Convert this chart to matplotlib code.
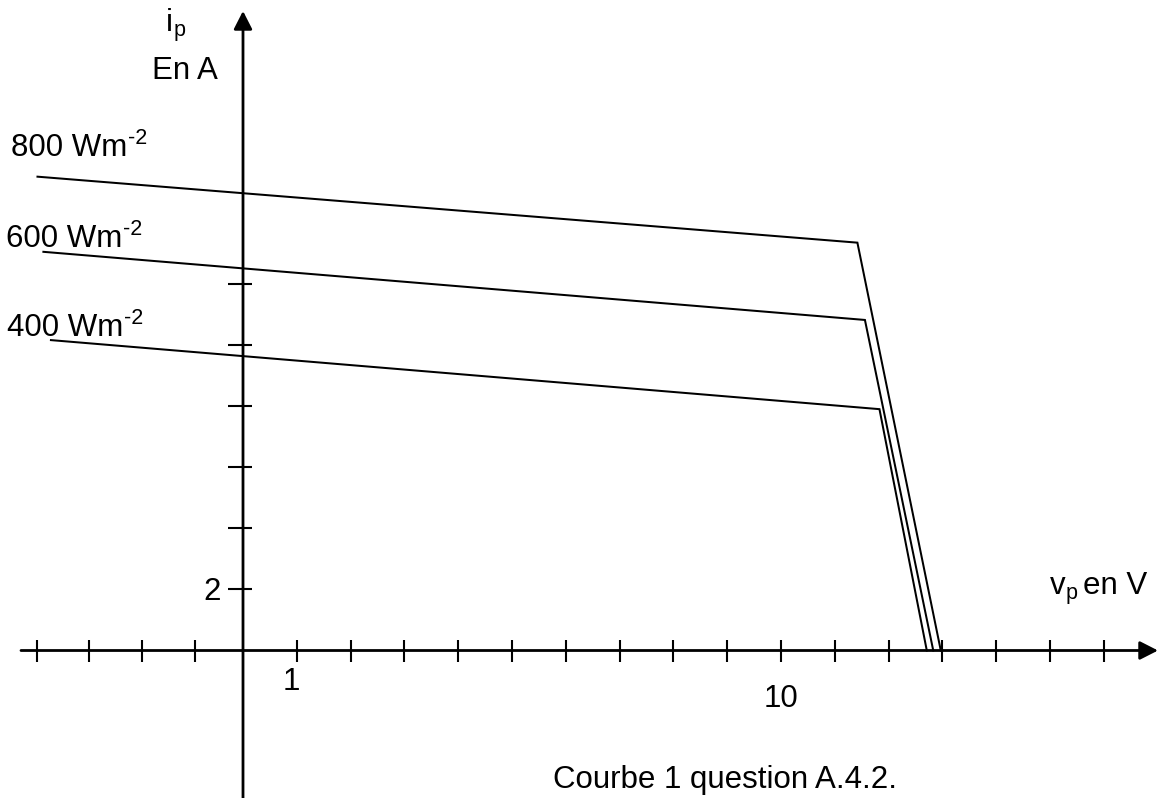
import matplotlib
matplotlib.use("Agg")
import matplotlib.pyplot as plt

# ---- data ----
irradiance_labels = ["800 Wm", "600 Wm", "400 Wm"]
volts_800 = [-3.82, 11.42, 12.97]
amps_800 = [15.51, 13.35, 0.0]
volts_600 = [-3.71, 11.56, 12.83]
amps_600 = [13.05, 10.82, 0.0]
volts_400 = [-3.57, 11.83, 12.71]
amps_400 = [10.16, 7.90, 0.0]
x_ticks = [-3.83, -2.86, -1.88, -0.90, 1, 2, 3, 4, 5, 6, 7, 8, 9, 10,
           11, 12, 13, 14, 15, 16]
y_ticks = [2, 4, 6, 8, 10, 12]
x_tick_labels = ["1", "10"]
y_tick_labels = ["2"]

# ---- layout ----
W, H = 1159, 798
X0, Y0 = 243.0, 650.5       # origin in pixels
SX, SY = 53.8, 30.55        # pixels per unit

plt.rcParams['font.family'] = ['Liberation Sans', 'DejaVu Sans']
FS = 22.5
FS_SMALL = 15.5

fig = plt.figure(figsize=(W / 100, H / 100), dpi=100)
ax = fig.add_axes([0, 0, 1, 1])
ax.set_xlim(-X0 / SX, (W - X0) / SX)
ax.set_ylim((Y0 - H) / SY, Y0 / SY)
ax.axis('off')


def px(x):
    return (x - X0) / SX


def py(y):
    return (Y0 - y) / SY


# axes with arrows
axis_lw = 2.0
arrow_style = '-|>,head_length=0.55,head_width=0.28'
ax.annotate('', xy=(px(1158), 0), xytext=(px(21), 0),
            arrowprops=dict(arrowstyle=arrow_style, lw=axis_lw, color='black',
                            shrinkA=0, shrinkB=0, mutation_scale=20))
ax.annotate('', xy=(0, py(11)), xytext=(0, py(H + 5)),
            arrowprops=dict(arrowstyle=arrow_style, lw=axis_lw, color='black',
                            shrinkA=0, shrinkB=0, mutation_scale=20))

# ticks
ax.vlines(x_ticks, -11 / SY, 11 / SY, colors='black', lw=1.5)
ax.hlines(y_ticks, -15 / SX, 9 / SX, colors='black', lw=1.5)

# curves
curve_lw = 1.45
for v, a in [(volts_800, amps_800), (volts_600, amps_600), (volts_400, amps_400)]:
    ax.plot(v, a, color='black', lw=curve_lw, solid_joinstyle='miter')

# tick labels
x_label_pos = [(291.5, 690), (781.5, 707)]
for lab, (lx, ly) in zip(x_tick_labels, x_label_pos):
    ax.text(px(lx), py(ly), lab, fontsize=FS, ha='center', va='baseline')
for lab in y_tick_labels:
    ax.text(px(221), py(592), lab, fontsize=FS, ha='right', va='center')

# curve labels with superscript
label_pos = [(11, 156), (6, 247), (7, 336)]
for lab, (lx, ly) in zip(irradiance_labels, label_pos):
    t = ax.text(px(lx), py(ly), lab, fontsize=FS, ha='left', va='baseline')
    ax.annotate('-2', xy=(1.0, 0.0), xycoords=t, xytext=(0.3, 14.0),
                textcoords='offset points', fontsize=FS_SMALL,
                ha='left', va='baseline')

# axis titles
ti = ax.text(px(166), py(31), 'i', fontsize=FS, ha='left', va='baseline')
ax.annotate('p', xy=(1.0, 0.0), xycoords=ti, xytext=(0.3, 1.2),
            textcoords='offset points', fontsize=FS_SMALL, ha='left',
            va='baseline')
ax.text(px(152), py(79), 'En A', fontsize=FS, ha='left', va='baseline')

tv = ax.text(px(1050), py(594), 'v', fontsize=FS, ha='left', va='baseline')
ax.annotate('p', xy=(1.0, 0.0), xycoords=tv, xytext=(0.3, 1.2),
            textcoords='offset points', fontsize=FS_SMALL, ha='left',
            va='baseline')
ax.text(px(1083), py(594), 'en V', fontsize=FS, ha='left', va='baseline')

ax.text(px(897), py(788), 'Courbe 1 question A.4.2.', fontsize=FS,
        ha='right', va='baseline')

fig.savefig('out.png', dpi=100)
